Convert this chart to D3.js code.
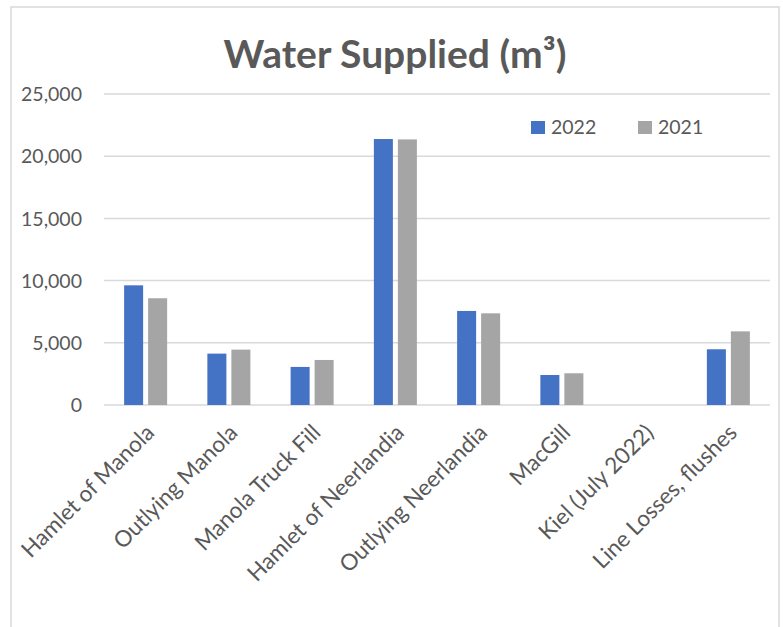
<!DOCTYPE html>
<html>
<head>
<meta charset="utf-8">
<script src="https://cdn.jsdelivr.net/npm/d3@7/dist/d3.min.js"></script>
<style>
  html, body { margin: 0; padding: 0; background: #ffffff; }
  svg { display: block; }
  text { font-family: Lato, "Open Sans", sans-serif; fill: #595959; }
</style>
</head>
<body>
<svg id="chart" width="783" height="627"></svg>
<script>
// Water supplied per service area, cubic metres
const categories = [
  "Hamlet of Manola",
  "Outlying Manola",
  "Manola Truck Fill",
  "Hamlet of Neerlandia",
  "Outlying Neerlandia",
  "MacGill",
  "Kiel (July 2022)",
  "Line Losses, flushes"
];
const seriesNames = ["2022", "2021"];
const values2022 = [9620, 4130, 3060, 21380, 7560, 2410, null, 4480];
const values2021 = [8580, 4450, 3620, 21350, 7370, 2550, null, 5920];
const yTicks = [0, 5000, 10000, 15000, 20000, 25000];
const titleText = "Water Supplied (m³)";

const colors = { "2022": "#4472C4", "2021": "#A5A5A5" };
const seriesValues = { "2022": values2022, "2021": values2021 };

const svg = d3.select("#chart");

// outer chart frame
svg.append("rect")
  .attr("x", 11).attr("y", 7)
  .attr("width", 768).attr("height", 660)
  .attr("fill", "none")
  .attr("stroke", "#D9D9D9")
  .attr("stroke-width", 1.5);

const plot = { left: 104, right: 770, top: 94, bottom: 405 };

const x0 = d3.scaleBand()
  .domain(categories)
  .range([plot.left, plot.right])
  .padding(0);

const x1 = d3.scaleBand()
  .domain(seriesNames)
  .range([0, x0.bandwidth()])
  .paddingInner(0.208)
  .paddingOuter(0.838);

const y = d3.scaleLinear()
  .domain([0, 25000])
  .range([plot.bottom, plot.top]);

// horizontal gridlines
svg.append("g")
  .selectAll("line")
  .data(yTicks)
  .join("line")
  .attr("x1", plot.left).attr("x2", plot.right)
  .attr("y1", d => y(d)).attr("y2", d => y(d))
  .attr("stroke", "#D9D9D9")
  .attr("stroke-width", 1.5);

// y axis labels
const yAxis = d3.axisLeft(y)
  .tickValues(yTicks)
  .tickFormat(d3.format(","))
  .tickSize(0)
  .tickPadding(0);

const yG = svg.append("g")
  .attr("transform", `translate(82,0)`)
  .call(yAxis);
yG.select(".domain").remove();
yG.selectAll("text")
  .attr("font-size", 19.5)
  .attr("font-family", "Lato")
  .attr("fill", "#595959")
  .attr("dy", "0.34em");

// bars
const rows = categories.map((c, i) => ({
  category: c,
  bars: seriesNames.map(s => ({ series: s, value: seriesValues[s][i] }))
}));

const groups = svg.append("g")
  .selectAll("g")
  .data(rows)
  .join("g")
  .attr("transform", d => `translate(${x0(d.category)},0)`);

groups.selectAll("rect")
  .data(d => d.bars.filter(b => b.value != null))
  .join("rect")
  .attr("x", d => x1(d.series))
  .attr("width", x1.bandwidth())
  .attr("y", d => y(d.value))
  .attr("height", d => y(0) - y(d.value))
  .attr("fill", d => colors[d.series]);

// category labels, rotated
const xAxis = d3.axisBottom(x0).tickSize(0).tickPadding(0);
const xG = svg.append("g")
  .attr("transform", `translate(0,${plot.bottom})`)
  .call(xAxis);
xG.select(".domain").remove();
xG.selectAll("text")
  .attr("font-size", 22.5)
  .attr("font-family", "Lato")
  .attr("fill", "#595959")
  .attr("text-anchor", "end")
  .attr("dy", null)
  .attr("y", null)
  .attr("transform", "translate(10,29) rotate(-45)");

// title
svg.append("text")
  .attr("x", 395)
  .attr("y", 68)
  .attr("text-anchor", "middle")
  .attr("font-size", 39)
  .attr("font-weight", "bold")
  .attr("fill", "#595959")
  .text(titleText);

// legend
const legend = svg.append("g")
  .selectAll("g")
  .data(seriesNames)
  .join("g")
  .attr("transform", (d, i) => `translate(${531 + i * 107},121)`);

legend.append("rect")
  .attr("width", 14).attr("height", 13)
  .attr("fill", d => colors[d]);

legend.append("text")
  .attr("x", 20)
  .attr("y", 13)
  .attr("font-size", 19.5)
  .attr("fill", "#595959")
  .text(d => d);
</script>
</body>
</html>
